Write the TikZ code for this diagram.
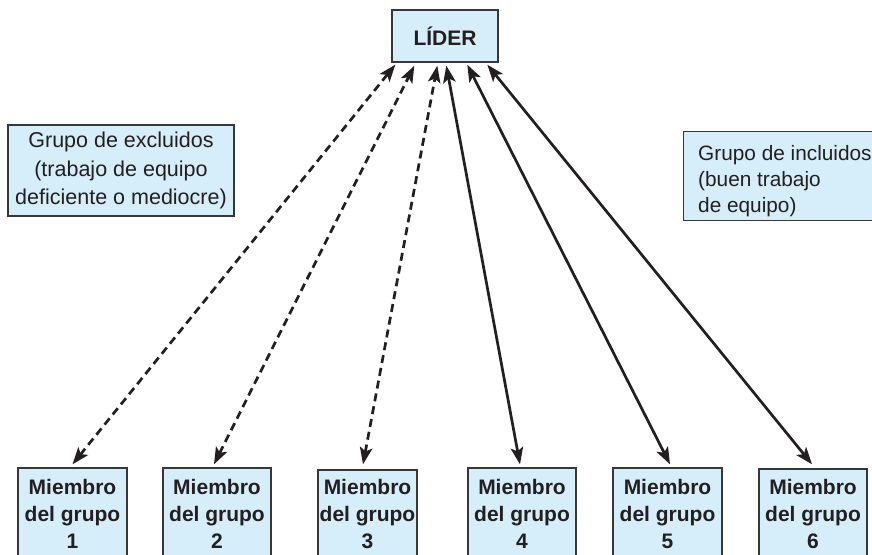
\documentclass[tikz,border=0pt]{standalone}
\usepackage{fontspec}
\setmainfont{Liberation Sans}
\usetikzlibrary{arrows.meta}
\definecolor{boxfill}{RGB}{214,238,250}
\definecolor{boxline}{RGB}{55,55,55}
\definecolor{ink}{RGB}{35,31,32}

\begin{document}
\begin{tikzpicture}[x=1pt,y=-1pt,
  box/.style={draw=boxline, fill=boxfill, line width=1.4pt, inner sep=0pt, text=ink},
  member/.style={box, font=\fontsize{21}{27}\selectfont\bfseries, align=center},
  note/.style={text=ink, inner sep=0pt, font=\fontsize{21.5}{28.5}\selectfont},
  link/.style={draw=ink, line width=2.7pt, {Stealth[length=17pt,width=12.5pt,inset=4pt]}-{Stealth[length=17pt,width=12.5pt,inset=4pt]}},
  weak/.style={link, dash pattern=on 8pt off 5pt}]

\useasboundingbox (0,0) rectangle (872,554);

% leader
\node[box, font=\fontsize{21}{25}\selectfont\bfseries,
      minimum width=106pt, minimum height=52pt] (lead) at (445,36) {LÍDER};

% side notes
\node[box, note, align=center, minimum width=226pt, minimum height=91pt]
  (excl) at (121,170.5) {Grupo de excluidos\\(trabajo de equipo\\deficiente o mediocre)};
\node[box, anchor=north west, minimum width=220pt, minimum height=89pt]
  (incl) at (683,131) {};
\node[note, font=\fontsize{20.8}{28.5}\selectfont, align=left, anchor=north west] (incltext) at (698,145)
  {Grupo de incluidos\\[-2.5pt](buen trabajo\\[-2.5pt]de equipo)};

% group members
\node[member, minimum width=109pt, minimum height=92pt] (m1) at (72.5,514) {Miembro\\del grupo\\1};
\node[member, minimum width=108pt, minimum height=92pt] (m2) at (217,514) {Miembro\\del grupo\\2};
\node[member, minimum width=99pt,  minimum height=88pt] (m3) at (367.5,514) {Miembro\\del grupo\\3};
\node[member, minimum width=108pt, minimum height=92pt] (m4) at (522,514) {Miembro\\del grupo\\4};
\node[member, minimum width=109pt, minimum height=92pt] (m5) at (667.5,514) {Miembro\\del grupo\\5};
\node[member, minimum width=108pt, minimum height=90pt] (m6) at (813,514) {Miembro\\del grupo\\6};

% relations with the leader
\draw[weak] ([yshift=3pt]m1.north) -- ([xshift=4pt,yshift=-2pt]lead.south west);
\draw[weak] ([xshift=-3pt,yshift=3pt]m2.north) -- ([xshift=23pt,yshift=-3pt]lead.south west);
\draw[weak] ([xshift=-4.5pt,yshift=5pt]m3.north) -- ([xshift=46pt,yshift=-3pt]lead.south west);
\draw[link] ([xshift=-2pt,yshift=3pt]m4.north) -- ([xshift=55pt,yshift=-3pt]lead.south west);
\draw[link] ([xshift=2.5pt,yshift=3pt]m5.north) -- ([xshift=76pt,yshift=-2pt]lead.south west);
\draw[link] ([xshift=-1pt,yshift=4pt]m6.north) -- ([xshift=96pt,yshift=-2pt]lead.south west);
\end{tikzpicture}
\end{document}
